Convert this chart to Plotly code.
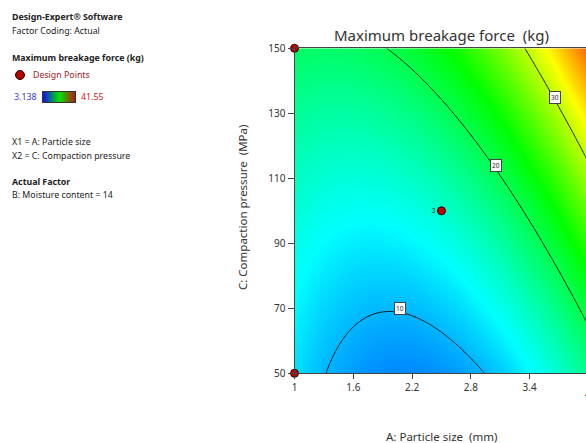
import numpy as np
import plotly.graph_objects as go

# ---- data ----
# Factor ranges (actual units)
particle_size_range = [1.0, 4.0]          # A (mm)
pressure_range = [50.0, 150.0]            # C (MPa)
# Fitted quadratic model in coded units (x = A coded, z = C coded), B fixed at 14
coef_names = ["Intercept", "A", "C", "AC", "A^2", "C^2"]
coef_values = [14.73, 6.2, 7.04, 3.29, 5.9, 0.95]
z_min, z_max = 3.138, 41.55
contour_levels = [10, 20, 30]
# Contour label positions (A, C)
label_A = [2.075, 3.055, 3.655]
label_C = [70.0, 113.8, 135.0]
label_text = ["10", "20", "30"]
# Design points
design_A = [1, 1, 4, 4, 2.5]
design_C = [50, 150, 50, 150, 100]
design_text = ["", "", "", "", "3"]
x_ticks = [1, 1.6, 2.2, 2.8, 3.4, 4]
y_ticks = [50, 70, 90, 110, 130, 150]

# ---- surface from the model ----
A = np.linspace(particle_size_range[0], particle_size_range[1], 151)
C = np.linspace(pressure_range[0], pressure_range[1], 121)
AA, CC = np.meshgrid(A, C)
xc = (AA - 2.5) / 1.5
zc = (CC - 100.0) / 50.0
b0, b1, b2, b12, b11, b22 = coef_values
Z = b0 + b1 * xc + b2 * zc + b12 * xc * zc + b11 * xc ** 2 + b22 * zc ** 2

W, H = 586, 443
def px(x):
    return x / W
def py(y):
    return 1 - y / H

cscale = [[0.0, "rgb(0,0,255)"], [0.25, "rgb(0,255,255)"], [0.52, "rgb(0,255,0)"],
          [0.76, "rgb(255,255,0)"], [1.0, "rgb(255,0,0)"]]
swatch_scale = [[0.0, "rgb(20,20,230)"], [0.5, "rgb(0,230,0)"], [1.0, "rgb(190,20,20)"]]

fig = go.Figure()
fig.add_trace(go.Contour(
    x=A, y=C, z=Z, zmin=z_min, zmax=z_max, colorscale=cscale, showscale=False,
    contours=dict(start=contour_levels[0], end=contour_levels[-1], size=10,
                  coloring="heatmap", showlabels=False),
    line=dict(color="#1a1a1a", width=1), hoverinfo="skip"))

fig.add_trace(go.Scatter(
    x=design_A, y=design_C, mode="markers+text", text=design_text,
    textposition="middle left", textfont=dict(size=7, color="#222"),
    marker=dict(size=8, color="#c00000", line=dict(color="#300000", width=1)),
    cliponaxis=False, showlegend=False, hoverinfo="skip"))

# legend colour swatch
fig.add_trace(go.Heatmap(
    z=[np.linspace(z_min, z_max, 64)], colorscale=swatch_scale, zmin=z_min, zmax=z_max,
    showscale=False, xaxis="x2", yaxis="y2", zsmooth="best", hoverinfo="skip"))

font_fam = "Noto Sans, Open Sans, sans-serif"
fig.update_layout(
    width=W, height=H, margin=dict(l=0, r=0, t=0, b=0),
    paper_bgcolor="white", plot_bgcolor="white", showlegend=False,
    font=dict(family=font_fam, color="#333"),
    xaxis=dict(domain=[px(294.5), 1], range=[1, 3.975], tickvals=x_ticks,
               ticks="outside", ticklen=5, tickcolor="#444", showline=True,
               linecolor="#444", mirror=True, showgrid=False, zeroline=False,
               tickfont=dict(size=10, color="#333"), automargin=False),
    yaxis=dict(domain=[py(373.3), py(48.3)], range=[50, 150], tickvals=y_ticks,
               ticks="outside", ticklen=6, tickcolor="#444", showline=True,
               linecolor="#444", showgrid=False, zeroline=False,
               tickfont=dict(size=10, color="#333"), automargin=False),
    xaxis2=dict(domain=[px(43), px(75)], anchor="y2", showticklabels=False,
                ticks="", showline=True, mirror=True, linecolor="#333",
                showgrid=False, zeroline=False),
    yaxis2=dict(domain=[py(102), py(92)], anchor="x2", showticklabels=False,
                ticks="", showline=True, mirror=True, linecolor="#333",
                showgrid=False, zeroline=False),
)

ann = []
def txt(x, y, s, size=8.8, color="#222", bold=False, anchor="left"):
    ann.append(dict(x=px(x), y=py(y), xref="paper", yref="paper", text=("<b>%s</b>" % s) if bold else s,
                    showarrow=False, xanchor=anchor, yanchor="middle",
                    font=dict(size=size, color=color, family=font_fam)))

txt(10, 17, "Design-Expert® Software", bold=True)
txt(10, 31, "Factor Coding: Actual")
txt(10, 58, "Maximum breakage force (kg)", bold=True)
txt(31, 75, "Design Points", color="#a01818")
txt(12, 97, "3.138", color="#3a3ad0")
txt(79, 97, "41.55", color="#d02020")
txt(10, 142, "X1 = A: Particle size")
txt(10, 156, "X2 = C: Compaction pressure")
txt(10, 182, "Actual Factor", bold=True)
txt(10, 195, "B: Moisture content = 14")
# last x tick label, cut by the window edge as in the reference
txt(588, 394, "4", size=10, color="#333", anchor="center")

# titles
ann.append(dict(x=px(441), y=py(35), xref="paper", yref="paper",
                text="Maximum breakage force  (kg)", showarrow=False,
                xanchor="center", yanchor="middle",
                font=dict(size=15, color="#333", family=font_fam)))
ann.append(dict(x=px(441), y=py(436), xref="paper", yref="paper",
                text="A: Particle size  (mm)", showarrow=False,
                xanchor="center", yanchor="middle",
                font=dict(size=11.5, color="#333", family=font_fam)))
ann.append(dict(x=px(242), y=py(208), xref="paper", yref="paper",
                text="C: Compaction pressure  (MPa)", showarrow=False, textangle=-90,
                xanchor="center", yanchor="middle",
                font=dict(size=11.5, color="#333", family=font_fam)))

for a_, c_, t_ in zip(label_A, label_C, label_text):
    ann.append(dict(x=a_, y=c_, xref="x", yref="y", text=t_, showarrow=False,
                    bgcolor="white", bordercolor="#444", borderwidth=1, borderpad=1,
                    font=dict(size=6.5, color="#222", family=font_fam)))

fig.update_layout(annotations=ann)

fig.add_shape(type="circle", xref="paper", yref="paper", xsizemode="pixel",
              ysizemode="pixel", xanchor=px(20), yanchor=py(75),
              x0=-4.5, x1=4.5, y0=-4.5, y1=4.5,
              fillcolor="#b00000", line=dict(color="#300000", width=1))

fig.write_html("out.html", config={"displayModeBar": False},
               post_script="document.body.style.margin='0';document.body.style.overflow='hidden';")
